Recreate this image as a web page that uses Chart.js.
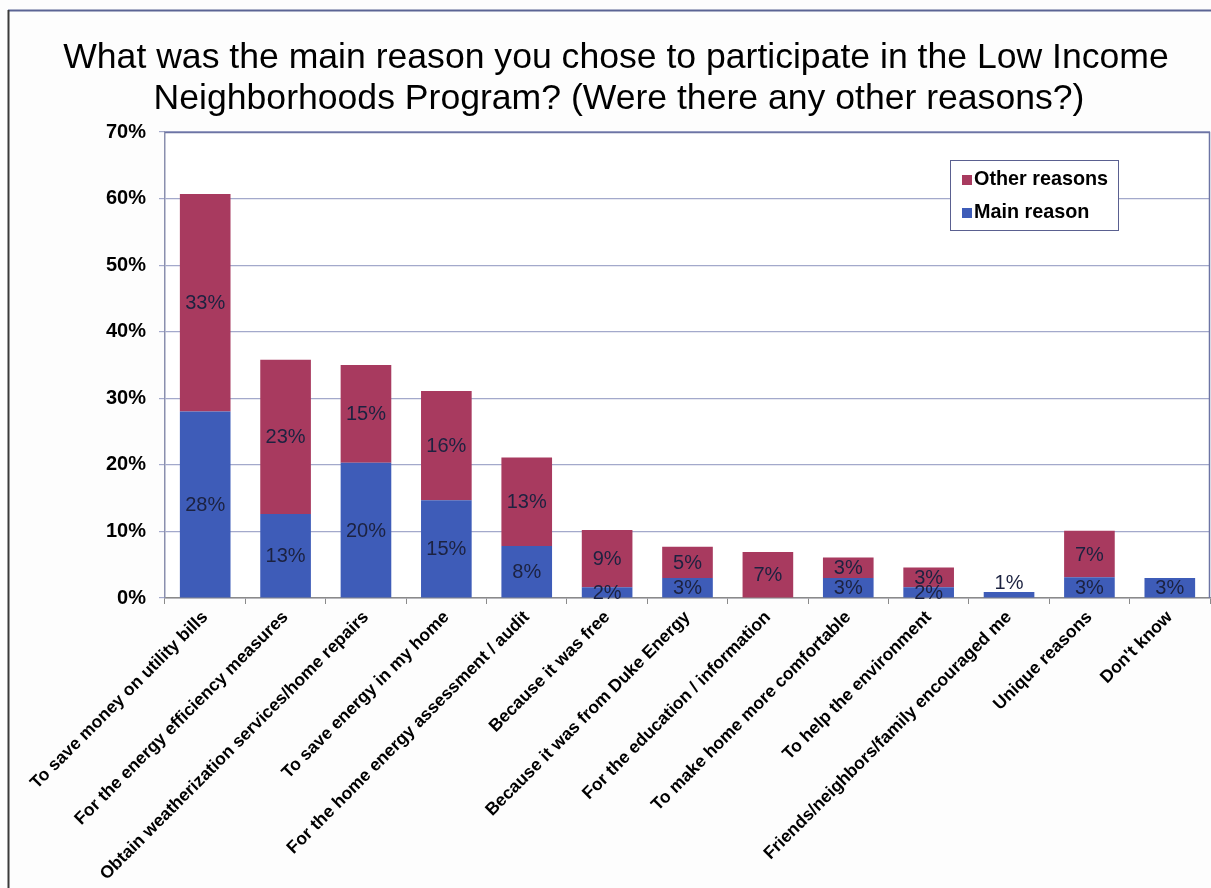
<!DOCTYPE html>
<html>
<head>
<meta charset="utf-8">
<script src="https://cdn.jsdelivr.net/npm/chart.js@4.4.1/dist/chart.umd.min.js"></script>
<style>
  html, body { margin: 0; padding: 0; background: #fdfdfd; }
  #wrap { position: relative; width: 1211px; height: 888px; }
  canvas { display: block; }
</style>
</head>
<body>
<div id="wrap"><canvas id="c" width="1211" height="888"></canvas></div>
<script>
const titleLines = [
  "What was the main reason you chose to participate in the Low Income",
  "Neighborhoods Program? (Were there any other reasons?)"
];
const categories = [
  "To save money on utility bills",
  "For the energy efficiency measures",
  "Obtain weatherization services/home repairs",
  "To save energy in my home",
  "For the home energy assessment / audit",
  "Because it was free",
  "Because it was from Duke Energy",
  "For the education / information",
  "To make home more comfortable",
  "To help the environment",
  "Friends/neighbors/family encouraged me",
  "Unique reasons",
  "Don't know"
];
const mainReason   = [28.0, 12.6, 20.3, 14.7, 7.8, 1.6, 3.0, 0, 3.0, 1.6, 0.9, 3.1, 3.0];
const otherReasons = [32.7, 23.2, 14.7, 16.4, 13.3, 8.6, 4.7, 6.9, 3.1, 3.0, 0, 7.0, 0];
const seriesNames = ["Main reason", "Other reasons"];
const yTicks = [0, 10, 20, 30, 40, 50, 60, 70];

const RED = "#a83a5f";
const BLUE = "#3e5cb8";
const FONT = "'Liberation Sans', Arial, sans-serif";

const framePlugin = {
  id: "frame",
  beforeDraw(chart) {
    const ctx = chart.ctx;
    const ca = chart.chartArea;
    ctx.save();
    ctx.fillStyle = "#fdfdfd";
    ctx.fillRect(0, 0, chart.width, chart.height);
    ctx.fillStyle = "#ffffff";
    ctx.fillRect(ca.left, ca.top, ca.right - ca.left, ca.bottom - ca.top);
    ctx.lineWidth = 2;
    ctx.strokeStyle = "#5b6494";
    ctx.beginPath(); ctx.moveTo(8, 10.5); ctx.lineTo(chart.width, 10.5); ctx.stroke();
    ctx.strokeStyle = "#3a3a3a";
    ctx.beginPath(); ctx.moveTo(8.5, 10); ctx.lineTo(8.5, chart.height); ctx.stroke();
    // title
    ctx.fillStyle = "#000";
    ctx.font = "35.6px " + FONT;
    ctx.textAlign = "center";
    ctx.textBaseline = "middle";
    ctx.fillText(titleLines[0], 616, 58);
    ctx.fillText(titleLines[1], 619, 99);
    ctx.restore();
  },
  beforeDatasetsDraw(chart) {
    const ctx = chart.ctx;
    const ca = chart.chartArea;
    ctx.save();
    ctx.strokeStyle = "#6d74a4";
    ctx.lineWidth = 1.5;
    ctx.beginPath();
    ctx.moveTo(ca.left, ca.top + 0.5);
    ctx.lineTo(ca.right - 0.5, ca.top + 0.5);
    ctx.lineTo(ca.right - 0.5, ca.bottom);
    ctx.stroke();
    ctx.restore();
  },
  afterDatasetsDraw(chart) {
    const ctx = chart.ctx;
    ctx.save();
    ctx.font = "20px " + FONT;
    ctx.fillStyle = "#1c2240";
    ctx.textAlign = "center";
    ctx.textBaseline = "middle";
    chart.data.datasets.forEach((ds, di) => {
      const meta = chart.getDatasetMeta(di);
      meta.data.forEach((el, i) => {
        const v = ds.data[i];
        if (!v) return;
        const top = Math.min(el.y, el.base), bot = Math.max(el.y, el.base);
        const h = bot - top;
        let y = (top + bot) / 2 + 1;
        const above = chart.data.datasets.some((d2, dj) => dj > di && d2.data[i]);
        if (h < 9 && !above) y = top - 9;
        ctx.fillText(Math.round(v) + "%", el.x, y);
      });
    });
    // legend
    const bx = 950.5, by = 160.5, bw = 168, bh = 70;
    ctx.fillStyle = "#ffffff";
    ctx.fillRect(bx, by, bw, bh);
    ctx.strokeStyle = "#5a6090";
    ctx.lineWidth = 1;
    ctx.strokeRect(bx, by, bw, bh);
    const entries = [1, 0];
    entries.forEach((di, k) => {
      const ds = chart.data.datasets[di];
      const cy = 180 + k * 33;
      ctx.fillStyle = ds.backgroundColor;
      ctx.fillRect(962, cy - 5, 10, 10);
      ctx.fillStyle = "#000";
      ctx.font = "bold 19.8px " + FONT;
      ctx.textAlign = "left";
      ctx.textBaseline = "middle";
      ctx.fillText(ds.label, 974, cy);
    });
    ctx.restore();
  }
};

new Chart(document.getElementById("c"), {
  type: "bar",
  data: {
    labels: categories,
    datasets: [
      { label: seriesNames[0], data: mainReason, backgroundColor: BLUE, stack: "s",
        barPercentage: 0.63, categoryPercentage: 1.0 },
      { label: seriesNames[1], data: otherReasons, backgroundColor: RED, stack: "s",
        barPercentage: 0.63, categoryPercentage: 1.0 }
    ]
  },
  plugins: [framePlugin],
  options: {
    responsive: false,
    animation: false,
    layout: { padding: { top: 132, right: 1, left: 0, bottom: 0 } },
    plugins: {
      legend: { display: false },
      title: { display: false },
      tooltip: { enabled: false }
    },
    scales: {
      x: {
        stacked: true,
        grid: { offset: true, drawOnChartArea: false, drawTicks: true, tickLength: 6, color: "#8a8a8a" },
        border: { color: "#8a8a8a", width: 1.5 },
        ticks: {
          autoSkip: false, minRotation: 45, maxRotation: 45,
          color: "#000", padding: 3,
          font: { family: FONT, size: 17.5, weight: "bold" }
        },
        afterFit(scale) { scale.height = 290; }
      },
      y: {
        stacked: true, min: 0, max: 70,
        afterBuildTicks(scale) { scale.ticks = yTicks.map(v => ({ value: v })); },
        grid: { color: "#a3a9cb", lineWidth: 1.2, tickLength: 6 },
        border: { color: "#8a8fae", width: 1.5 },
        ticks: {
          color: "#000", padding: 13,
          font: { family: FONT, size: 20, weight: "bold" },
          callback: v => v + "%"
        },
        afterFit(scale) { scale.width = 165; }
      }
    }
  }
});
</script>
</body>
</html>
